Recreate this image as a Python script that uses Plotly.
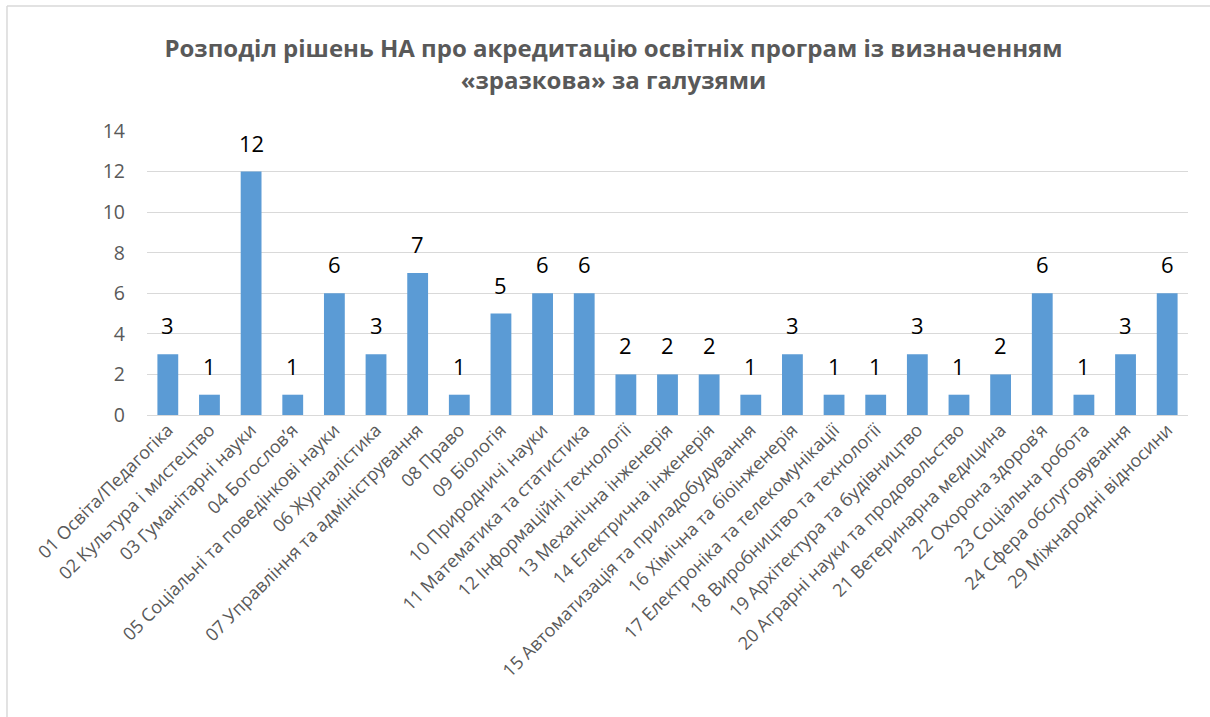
import plotly.graph_objects as go

categories = [
    "01 Освіта/Педагогіка",
    "02 Культура і мистецтво",
    "03 Гуманітарні науки",
    "04 Богослов\u2019я",
    "05 Соціальні та поведінкові науки",
    "06 Журналістика",
    "07 Управління та адміністрування",
    "08 Право",
    "09 Біологія",
    "10 Природничі науки",
    "11 Математика та статистика",
    "12 Інформаційні технології",
    "13 Механічна інженерія",
    "14 Електрична інженерія",
    "15 Автоматизація та приладобудування",
    "16 Хімічна та біоінженерія",
    "17 Електроніка та телекомунікації",
    "18 Виробництво та технології",
    "19 Архітектура та будівництво",
    "20 Аграрні науки та продовольство",
    "21 Ветеринарна медицина",
    "22 Охорона здоров\u2019я",
    "23 Соціальна робота",
    "24 Сфера обслуговування",
    "29 Міжнародні відносини",
]
values = [3, 1, 12, 1, 6, 3, 7, 1, 5, 6, 6, 2, 2, 2, 1, 3, 1, 1, 3, 1, 2, 6, 1, 3, 6]
y_ticks = [0, 2, 4, 6, 8, 10, 12, 14]

title_text = ("Розподіл рішень НА про акредитацію освітніх програм із визначенням"
              "<br>«зразкова» за галузями")

FONT = "Open Sans"
GREY = "#595959"

fig = go.Figure(
    go.Bar(
        x=categories,
        y=values,
        marker=dict(color="#5B9BD5", line=dict(width=0)),
        width=0.5,
        hoverinfo="x+y",
    )
)

# value labels above each bar
for c, v in zip(categories, values):
    fig.add_annotation(
        x=c, y=v, text=str(v), showarrow=False,
        yanchor="bottom", yshift=12,
        font=dict(family=FONT, size=22, color="#000000"),
    )

# chart border (top and left edges)
fig.add_shape(type="line", xref="paper", yref="paper",
              x0=-0.1345, x1=1.03, y0=1.44, y1=1.44,
              line=dict(color="#D9D9D9", width=1.5))
fig.add_shape(type="line", xref="paper", yref="paper",
              x0=-0.1345, x1=-0.1345, y0=1.44, y1=-1.1,
              line=dict(color="#D9D9D9", width=1.5))

fig.update_layout(
    width=1210,
    height=717,
    margin=dict(l=147, r=22, t=131, b=302),
    paper_bgcolor="white",
    plot_bgcolor="white",
    showlegend=False,
    bargap=0.5,
    title=dict(
        text=title_text,
        x=0.507, xanchor="center",
        y=0.92, yanchor="middle",
        font=dict(family=FONT, size=24, color=GREY, weight="bold"),
    ),
    font=dict(family=FONT, color=GREY),
)

fig.update_yaxes(
    range=[0, 14],
    tickvals=y_ticks,
    ticktext=[str(t) for t in y_ticks],
    showgrid=True, gridcolor="#D9D9D9", gridwidth=1,
    zeroline=True, zerolinecolor="#D9D9D9", zerolinewidth=1,
    showline=False,
    ticks="", ticklabelstandoff=21,
    tickfont=dict(family=FONT, size=19.5, color=GREY),
)
fig.update_xaxes(
    tickangle=-45,
    showgrid=False,
    showline=False,
    ticks="",
    tickfont=dict(family=FONT, size=18, color=GREY),
)

fig.write_html("out.html")
